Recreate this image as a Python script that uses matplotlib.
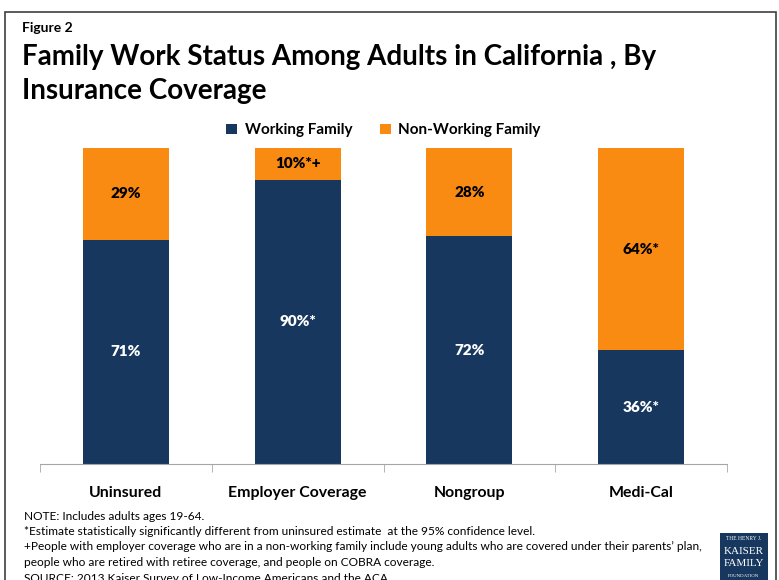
import matplotlib.pyplot as plt
import numpy as np
from matplotlib.patches import Rectangle

categories = ["Uninsured", "Employer Coverage", "Nongroup", "Medi-Cal"]
working = [71, 90, 72, 36]
non_working = [29, 10, 28, 64]
working_labels = ["71%", "90%*", "72%", "36%*"]
non_working_labels = ["29%", "10%*+", "28%", "64%*"]

navy = "#17375E"
orange = "#F98B13"

plt.rcParams['font.family'] = ['Lato', 'DejaVu Sans']

fig = plt.figure(figsize=(7.79, 5.80), dpi=100)

# outer frame
fig.add_artist(Rectangle((5 / 779, -0.05), 771 / 779, 1.05 - 12 / 580, transform=fig.transFigure,
                         fill=False, edgecolor="#404040", linewidth=1.2))

fig.text(22 / 779, 1 - 28 / 580, "Figure 2", fontsize=10, fontweight="bold", va="center")
fig.text(22 / 779, 1 - 57 / 580, "Family Work Status Among Adults in California , By",
         fontsize=20, fontweight="bold", va="center")
fig.text(22 / 779, 1 - 91 / 580, "Insurance Coverage", fontsize=20, fontweight="bold", va="center")

ax = fig.add_axes([40 / 779, 1 - 464 / 580, 687 / 779, 316 / 580])
x = np.arange(len(categories))
ax.bar(x, working, width=0.5, color=navy, label="Working Family")
ax.bar(x, non_working, width=0.5, bottom=working, color=orange, label="Non-Working Family")

for i in range(len(categories)):
    ax.text(x[i], working[i] / 2, working_labels[i], ha="center", va="center",
            color="white", fontsize=11, fontweight="heavy")
    ax.text(x[i], working[i] + non_working[i] / 2, non_working_labels[i], ha="center", va="center",
            color="black", fontsize=11, fontweight="heavy")

ax.set_xlim(-0.5, len(categories) - 0.5)
ax.set_ylim(0, 100)
ax.set_yticks([])
for s in ["top", "right", "left"]:
    ax.spines[s].set_visible(False)
ax.spines["bottom"].set_color("#A6A6A6")
ax.set_xticks(x)
ax.set_xticklabels(categories, fontsize=11.4, fontweight="bold")
ax.tick_params(axis="x", which="major", length=0, pad=16)
ax.set_xticks(np.arange(-0.5, len(categories), 1.0), minor=True)
ax.tick_params(axis="x", which="minor", length=6, color="#A6A6A6")

ax.legend(loc="lower center", bbox_to_anchor=(0.5, 1.0), ncol=2, frameon=False,
          prop={"weight": "bold", "size": 11}, handlelength=0.7, handleheight=0.7,
          columnspacing=1.8, handletextpad=0.5, borderaxespad=0.3)

notes = [
    "NOTE: Includes adults ages 19-64.",
    "*Estimate statistically significantly different from uninsured estimate  at the 95% confidence level.",
    "+People with employer coverage who are in a non-working family include young adults who are covered under their parents\u2019 plan,",
    "people who are retired with retiree coverage, and people on COBRA coverage.",
    "SOURCE: 2013 Kaiser Survey of Low-Income Americans and the ACA.",
]
for k, line in enumerate(notes):
    fig.text(24 / 779, 1 - (516 + 15.5 * k) / 580, line, fontsize=8.6, va="center")

# logo
fig.add_artist(Rectangle((720 / 779, 0), 48 / 779, 47 / 580, transform=fig.transFigure,
                         facecolor=navy, edgecolor="none"))
fig.text(744 / 779, 1 - 539 / 580, "THE HENRY J.", fontsize=4, color="white", ha="center", va="center",
         family="Liberation Serif")
fig.text(744 / 779, 1 - 551 / 580, "KAISER", fontsize=8, color="white", ha="center", va="center",
         family="Liberation Serif")
fig.text(744 / 779, 1 - 564 / 580, "FAMILY", fontsize=8, color="white", ha="center", va="center",
         family="Liberation Serif")
fig.text(744 / 779, 1 - 576 / 580, "FOUNDATION", fontsize=3.5, color="white", ha="center", va="center",
         family="Liberation Serif")

fig.savefig("out.png", dpi=100)
